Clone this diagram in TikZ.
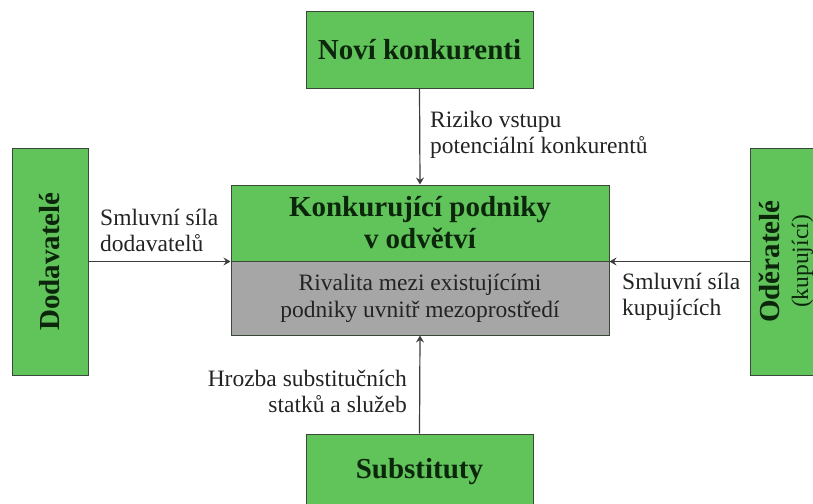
\documentclass[tikz,border=0pt]{standalone}
\usepackage{fontspec}
\setmainfont{Liberation Serif}
\usetikzlibrary{arrows.meta}
\definecolor{boxgreen}{RGB}{96,196,90}
\definecolor{boxgray}{RGB}{166,166,166}
\definecolor{edgecol}{RGB}{58,72,58}
\definecolor{titlecol}{RGB}{12,38,12}
\definecolor{labelcol}{RGB}{35,35,35}
\definecolor{arrcol}{RGB}{60,60,60}
\tikzset{
  gbox/.style={draw=edgecol, line width=1pt, fill=boxgreen, inner sep=0pt, align=center,
    text=titlecol, font=\fontsize{29}{32}\selectfont\bfseries},
  rbox/.style={draw=edgecol, line width=1pt, fill=boxgray, inner sep=0pt, align=center,
    text=labelcol, font=\fontsize{23.5}{27}\selectfont},
  lbl/.style={inner sep=0pt, text=labelcol, font=\fontsize{23.5}{26}\selectfont},
  arr/.style={draw=arrcol, line width=1.2pt, -{Stealth[length=7pt,width=8pt,inset=2.5pt]}}
}
\begin{document}
\begin{tikzpicture}[x=1pt,y=-1pt]
\useasboundingbox (0,0) rectangle (813,503);
\clip (0,0) rectangle (813,503);
\node[gbox, minimum width=227pt, minimum height=76pt] (nk) at (419.5,50) {Noví konkurenti};
\node[gbox, minimum width=227pt, minimum height=76pt] (sub) at (419.5,472) {Substituty};
\node[gbox, rotate=90, minimum width=227pt, minimum height=76pt] (dod) at (50,261.5) {Dodavatelé};
\node[gbox, rotate=90, minimum width=227pt, minimum height=72pt] (odb) at (786,261.5)
  {Oděratelé\\[-3pt]{\mdseries\fontsize{23.5}{26}\selectfont(kupující)}};
\node[gbox, minimum width=378pt, minimum height=76pt] (cg) at (420,223) {Konkurující podniky\\v odvětví};
\node[rbox, minimum width=378pt, minimum height=74pt] (cr) at (420,298) {Rivalita mezi existujícími\\podniky uvnitř mezoprostředí};
\draw[arr] (nk.south) -- (cg.north);
\draw[arr] (sub.north) -- (cr.south);
\draw[arr] (dod.south) -- (cg.south west);
\draw[arr] (odb.north) -- (cg.south east);
\node[lbl, anchor=west, align=left] (riz) at (430,134.5) {Riziko vstupu\\potenciální konkurentů};
\node[lbl, anchor=west, align=left] (sd) at (100,230) {Smluvní síla\\dodavatelů};
\node[lbl, anchor=west, align=left] (sk) at (622,297) {Smluvní síla\\kupujících};
\node[lbl, anchor=east, align=right] (hs) at (407,391) {Hrozba substitučních\\statků a služeb};
\end{tikzpicture}
\end{document}
